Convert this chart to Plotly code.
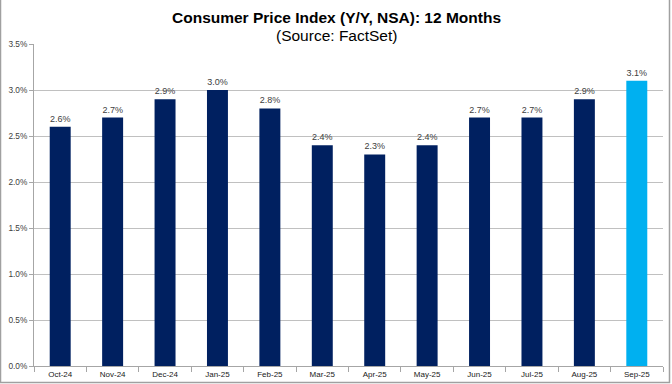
import plotly.graph_objects as go

months = ["Oct-24", "Nov-24", "Dec-24", "Jan-25", "Feb-25", "Mar-25",
          "Apr-25", "May-25", "Jun-25", "Jul-25", "Aug-25", "Sep-25"]
cpi = [2.6, 2.7, 2.9, 3.0, 2.8, 2.4, 2.3, 2.4, 2.7, 2.7, 2.9, 3.1]
colors = ["#002060"] * 11 + ["#00B0F0"]
y_ticks = [0.0, 0.5, 1.0, 1.5, 2.0, 2.5, 3.0, 3.5]

W, H = 672, 384
ml, mr, mt, mb = 34, 9, 44, 18
pw, ph = W - ml - mr, H - mt - mb

fig = go.Figure(go.Bar(
    x=months, y=cpi, marker_color=colors,
    marker_line_width=0,
    text=[f"{v:.1f}%" for v in cpi], textposition="outside",
    textfont=dict(size=9, color="#404040", family="Liberation Sans, Arial"),
    cliponaxis=False,
))

fig.update_layout(
    width=W, height=H,
    margin=dict(l=ml, r=mr, t=mt, b=mb, autoexpand=False),
    paper_bgcolor="white", plot_bgcolor="white",
    bargap=0.6, showlegend=False,
    font=dict(family="Liberation Sans, Arial", color="#404040", size=9),
    xaxis=dict(showline=True, linecolor="#A6A6A6", linewidth=1,
               ticks="outside", tickson="boundaries", ticklen=5, tickcolor="#A6A6A6",
               tickfont=dict(size=8, color="#202020"), showgrid=False,
               automargin=False),
    yaxis=dict(range=[0, 3.5], tickvals=y_ticks,
               ticktext=[f"{v:.1f}%" for v in y_ticks],
               showline=True, linecolor="#A6A6A6", linewidth=1,
               ticks="outside", ticklen=4, tickcolor="#A6A6A6",
               showgrid=True, gridcolor="#C0C0C0", gridwidth=1,
               tickfont=dict(size=8.3, color="#404040"), zeroline=False,
               automargin=False),
    annotations=[
        dict(text="<b>Consumer Price Index (Y/Y, NSA): 12 Months</b>",
             xref="paper", yref="paper", x=(336 - ml) / pw, y=(H - mb - 17) / ph,
             xanchor="center", yanchor="middle", showarrow=False,
             font=dict(size=15.5, color="#000000")),
        dict(text="(Source: FactSet)",
             xref="paper", yref="paper", x=(336 - ml) / pw, y=(H - mb - 35) / ph,
             xanchor="center", yanchor="middle", showarrow=False,
             font=dict(size=15.5, color="#000000")),
    ],
    shapes=[dict(type="rect", xref="paper", yref="paper",
                 x0=(0.5 - ml) / pw, x1=(669.5 - ml) / pw,
                 y0=(H - mb - 382.5) / ph, y1=(H - mb + 2) / ph,
                 line=dict(color="#A0A0A0", width=1.5), layer="below")],
)

fig.write_html("out.html", config={"displayModeBar": False},
               post_script="document.body.style.margin='0';document.body.style.overflow='hidden';")
